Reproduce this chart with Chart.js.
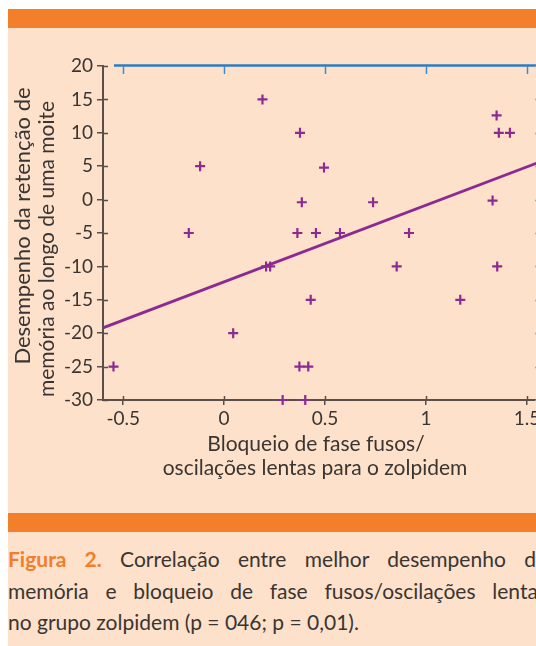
<!DOCTYPE html>
<html>
<head>
<meta charset="utf-8">
<script src="https://cdn.jsdelivr.net/npm/chart.js@4.4.1/dist/chart.umd.min.js"></script>
<style>
  body { margin: 0; width: 536px; height: 646px; overflow: hidden; background: #fff; position: relative; }
  .panel { position: absolute; left: 8px; top: 9px; width: 540px; height: 640px; background: #fde1ca; }
  .band { position: absolute; left: 8px; width: 540px; height: 19px; background: #f47f2a; }
  canvas { position: absolute; left: 0; top: 0; }
  .cap { position: absolute; left: 8px; font-family: Lato, sans-serif; font-size: 21px; color: #3a3532; white-space: nowrap; }
  .j { width: 539px; text-align: justify; text-align-last: justify; white-space: normal; }
  .fig { color: #f27e2c; font-weight: bold; }
</style>
</head>
<body>
<div class="panel"></div>
<div class="band" style="top:9px"></div>
<div class="band" style="top:513px"></div>
<canvas id="graph" width="560" height="500"></canvas>
<div class="cap j" style="top:546px"><span class="fig">Figura 2.</span> Correlação entre melhor desempenho de</div>
<div class="cap j" style="top:578px">memória e bloqueio de fase fusos/oscilações lentas</div>
<div class="cap" style="top:609px">no grupo zolpidem (p = 046; p = 0,01).</div>
<script>
// valeurs
var bloqueio = [-0.548, -0.175, -0.119, 0.045, 0.19, 0.208, 0.228, 0.29, 0.363, 0.373, 0.376, 0.385, 0.402, 0.417,
    0.429, 0.455, 0.495, 0.574, 0.738, 0.855, 0.916, 1.17, 1.33, 1.35, 1.353, 1.361, 1.416];
var desempenho = [-25, -5, 5, -20, 15, -10, -10, -30, -5, -25, 10, -0.4, -30, -25,
    -15, -5, 4.8, -5, -0.4, -10, -5, -15, -0.15, 12.6, -10, 10, 10];
// droite de regression (extremites lues)
var retaX = [-0.6, 1.56];
var retaY = [-19.2, 5.6];

var tituloX = ["Bloqueio de fase fusos/", "oscilações lentas para o zolpidem"];
var tituloY = ["Desempenho da retenção de", "memória ao longo de uma moite"];

var roxo = "#8c2a92";
var eixo = "#5a4f48";
var texto = "#3a3532";

var pontos = [];
for (let i = 0; i < bloqueio.length; i++) {
    pontos.push({ x: bloqueio[i], y: desempenho[i] })
}
var reta = [];
for (let i = 0; i < retaX.length; i++) {
    reta.push({ x: retaX[i], y: retaY[i] })
}

var decor = {
    id: 'decor',
    afterDraw(chart) {
        var ctx = chart.ctx, a = chart.chartArea, x = chart.scales.x, y = chart.scales.y;
        ctx.save();
        // petits traits vers l'interieur
        ctx.strokeStyle = eixo;
        ctx.lineWidth = 1.5;
        y.ticks.forEach(t => {
            var py = Math.round(y.getPixelForValue(t.value)) + 0.5;
            ctx.beginPath(); ctx.moveTo(a.left, py); ctx.lineTo(a.left + 5, py); ctx.stroke();
        });
        x.ticks.forEach(t => {
            var px = Math.round(x.getPixelForValue(t.value)) + 0.5;
            ctx.beginPath(); ctx.moveTo(px, a.bottom); ctx.lineTo(px, a.bottom - 4); ctx.stroke();
        });
        // axe du haut en bleu
        ctx.strokeStyle = "#2b7cc0";
        ctx.lineWidth = 2.5;
        ctx.beginPath(); ctx.moveTo(a.left + 11, a.top - 0.5); ctx.lineTo(a.right, a.top - 0.5); ctx.stroke();
        ctx.strokeStyle = "#3d8dcd";
        ctx.lineWidth = 1.5;
        x.ticks.forEach(t => {
            var px = Math.round(x.getPixelForValue(t.value)) + 0.5;
            ctx.beginPath(); ctx.moveTo(px, a.top); ctx.lineTo(px, a.top + 8); ctx.stroke();
        });
        // axe de droite en gris
        ctx.strokeStyle = "#aaa29b";
        y.ticks.forEach(t => {
            var py = Math.round(y.getPixelForValue(t.value)) + 0.5;
            ctx.beginPath(); ctx.moveTo(a.right - 4, py); ctx.lineTo(a.right, py); ctx.stroke();
        });
        // titres
        ctx.fillStyle = texto;
        ctx.font = "21px Lato";
        ctx.textAlign = "center";
        ctx.textBaseline = "alphabetic";
        ctx.fillText(tituloX[0], 316, 451);
        ctx.fillText(tituloX[1], 315, 475);
        ctx.save();
        ctx.translate(29.5, 226);
        ctx.rotate(-Math.PI / 2);
        ctx.font = "22px Lato";
        ctx.fillText(tituloY[0], 0, 0);
        ctx.restore();
        ctx.save();
        ctx.translate(53.5, 249);
        ctx.rotate(-Math.PI / 2);
        ctx.fillText(tituloY[1], 0, 0);
        ctx.restore();
        ctx.restore();
    }
};

var ctx = document.getElementById('graph').getContext('2d');
var data = {
    datasets: [{
        type: 'line',
        data: reta,
        borderColor: roxo,
        borderWidth: 2.8,
        pointRadius: 0,
        fill: false,
    }, {
        type: 'scatter',
        data: pontos,
        pointStyle: 'cross',
        pointRadius: 5,
        borderWidth: 2.2,
        borderColor: roxo,
        backgroundColor: roxo,
        clip: false,
    }]
}
var options = {
    responsive: false,
    animation: false,
    layout: { padding: { left: 43, top: 66, right: 21, bottom: 60 } },
    plugins: { legend: { display: false }, tooltip: { enabled: false } },
    scales: {
        x: {
            type: 'linear',
            min: -0.6,
            max: 1.56,
            afterFit: s => { s.height = 40 },
            grid: { drawOnChartArea: false, drawTicks: true, tickLength: 5, color: eixo, lineWidth: 1.5 },
            border: { color: eixo, width: 2 },
            ticks: {
                stepSize: 0.5,
                includeBounds: false,
                padding: 2,
                color: texto,
                font: { family: 'Lato', size: 19 },
                callback: v => String(Math.round(v * 10) / 10),
            }
        },
        y: {
            type: 'linear',
            min: -30,
            max: 20,
            afterFit: s => { s.width = 60 },
            grid: { drawOnChartArea: false, drawTicks: true, tickLength: 6, color: eixo, lineWidth: 1.5 },
            border: { color: eixo, width: 2 },
            ticks: {
                stepSize: 5,
                padding: 4,
                color: texto,
                font: { family: 'Lato', size: 19 },
            }
        }
    }
}
var config = {
    type: 'scatter',
    data: data,
    options: options,
    plugins: [decor]
}
var graph = new Chart(ctx, config)
</script>
</body>
</html>
